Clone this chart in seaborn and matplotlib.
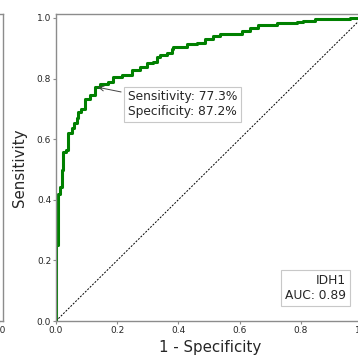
import matplotlib
matplotlib.use("Agg")
import matplotlib.pyplot as plt
import seaborn as sns
import pandas as pd

# ROC curve for IDH1 (corner points of the step curve)
fpr = [0.0, 0.0, 0.006, 0.013, 0.019, 0.024, 0.033, 0.040, 0.051, 0.059,
       0.068, 0.073, 0.082, 0.095, 0.111, 0.128, 0.144, 0.171, 0.187, 0.215,
       0.247, 0.275, 0.296, 0.318, 0.329, 0.340, 0.362, 0.378, 0.383, 0.427,
       0.460, 0.487, 0.514, 0.536, 0.607, 0.634, 0.661, 0.721, 0.787, 0.808,
       0.846, 0.961, 1.0]
tpr = [0.0, 0.25, 0.42, 0.443, 0.498, 0.559, 0.564, 0.620, 0.636, 0.654,
       0.669, 0.690, 0.700, 0.732, 0.746, 0.773, 0.782, 0.790, 0.806, 0.812,
       0.828, 0.837, 0.850, 0.856, 0.872, 0.878, 0.885, 0.897, 0.903, 0.914,
       0.918, 0.930, 0.941, 0.947, 0.958, 0.966, 0.977, 0.982, 0.986, 0.990,
       0.997, 1.0, 1.0]
label = "IDH1"
auc = 0.89
sensitivity = 77.3
specificity = 87.2

# tail of the neighbouring panel, only its right edge shows
prev_fpr = [0.90, 1.0]
prev_tpr = [1.0, 1.0]

ticks = [0.0, 0.2, 0.4, 0.6, 0.8, 1.0]
spine_col = "#8c8c8c"

sns.set_style("white")
fig = plt.figure(figsize=(3.58, 3.56), dpi=100)

def style_axes(ax):
    ax.set_xlim(0, 1.01)
    ax.set_ylim(0, 1.012)
    ax.set_xticks(ticks)
    ax.set_yticks(ticks)
    ax.set_xticklabels([f"{t:.1f}" for t in ticks])
    ax.set_yticklabels([f"{t:.1f}" for t in ticks])
    ax.tick_params(axis="both", labelsize=6.5, length=2, width=0.8,
                   color=spine_col, pad=1.5, direction="out",
                   bottom=True, left=True)
    for s in ax.spines.values():
        s.set_color(spine_col)
        s.set_linewidth(1.0)

ax0 = fig.add_axes([-0.856, 0.0983, 0.863, 0.8615])
style_axes(ax0)
ax0.plot(prev_fpr, prev_tpr, color="green", lw=2.2)
# only the last x label of that panel peeks into view
ax0.set_yticklabels([])
ax0.set_xticklabels([""] * (len(ticks) - 1) + ["1.0"])

ax = fig.add_axes([0.1564, 0.0983, 0.863, 0.8615])
style_axes(ax)

df = pd.DataFrame({"fpr": fpr, "tpr": tpr})
sns.lineplot(data=df, x="fpr", y="tpr", ax=ax, color="green", lw=2.2,
             sort=False, estimator=None, drawstyle="steps-post")
ax.plot([0, 1], [0, 1], color="black", lw=0.7, ls=(0, (2, 1.5)))

ax.set_xlabel("1 - Specificity", fontsize=10.8, labelpad=4)
ax.set_ylabel("Sensitivity", fontsize=10.8, labelpad=7)

bbox = dict(boxstyle="square,pad=0.3", facecolor="white", edgecolor="#c8c8c8", lw=0.8)
ax.annotate(f"Sensitivity: {sensitivity}%\nSpecificity: {specificity}%",
            xy=(1 - specificity / 100, sensitivity / 100),
            xytext=(0.235, 0.715), textcoords="data",
            ha="left", va="center", fontsize=8.8, bbox=bbox,
            arrowprops=dict(arrowstyle="->", color="#444444", lw=0.7))

ax.text(0.948, 0.063, f"{label}\nAUC: {auc:.2f}", ha="right", va="bottom",
        multialignment="right", fontsize=8.8, bbox=bbox)

fig.savefig("out.png", dpi=100)
